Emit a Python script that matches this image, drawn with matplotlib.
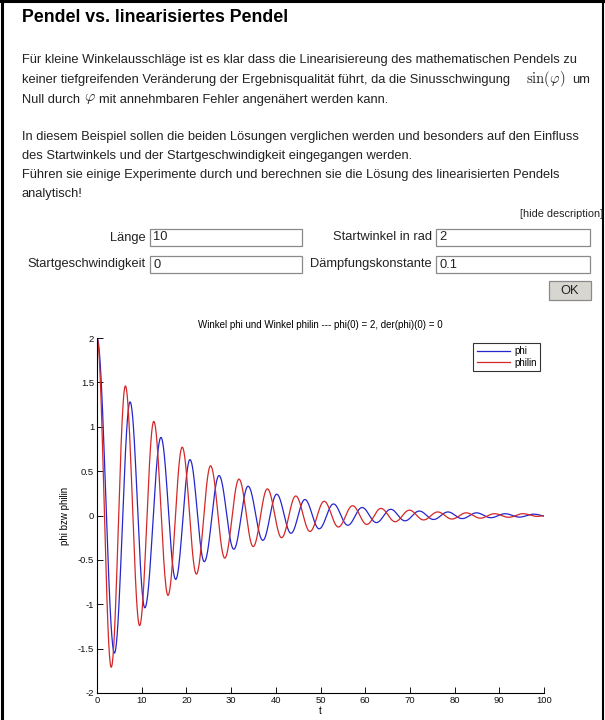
import numpy as np
import matplotlib.pyplot as plt
from matplotlib.patches import Rectangle

plt.rcParams['font.family'] = ['Liberation Sans', 'DejaVu Sans']
plt.rcParams['mathtext.fontset'] = 'cm'

# extrema of the two curves (t in s, angle in rad)
phi_t = [0, 3.9, 7.4, 10.7, 14.3, 17.6, 20.8, 24.0, 27.3, 30.6, 33.8, 37.1, 40.2, 43.4,
         46.5, 49.7, 52.9, 56.1, 59.3, 62.5, 65.7, 68.9, 72.1, 75.3, 78.5, 81.7, 84.9,
         88.1, 91.3, 94.5, 97.7, 100.9]
phi_v = [2.0, -1.55, 1.28, -1.04, 0.88, -0.72, 0.63, -0.52, 0.45, -0.38, 0.33, -0.28, 0.24,
         -0.20, 0.18, -0.15, 0.13, -0.11, 0.09, -0.08, 0.07, -0.06, 0.05, -0.045, 0.04,
         -0.035, 0.03, -0.025, 0.02, -0.018, 0.015, -0.012]

philin_t = [0, 3.18, 6.35, 9.53, 12.70, 15.88, 19.06, 22.23, 25.41, 28.58, 31.76, 34.94,
            38.11, 41.29, 44.46, 47.64, 50.82, 53.99, 57.17, 60.35, 63.52, 66.70, 69.88,
            73.05, 76.23, 79.40, 82.58, 85.76, 88.93, 92.11, 95.28, 98.46, 101.63]
philin_v = [2.0, -1.71, 1.46, -1.24, 1.06, -0.90, 0.77, -0.66, 0.56, -0.48, 0.41, -0.35,
            0.30, -0.25, 0.22, -0.18, 0.16, -0.13, 0.11, -0.10, 0.08, -0.07, 0.06, -0.05,
            0.04, -0.04, 0.03, -0.03, 0.02, -0.02, 0.02, -0.01, 0.01]

y_ticks = [-2, -1.5, -1, -0.5, 0, 0.5, 1, 1.5, 2]
x_ticks = [0, 10, 20, 30, 40, 50, 60, 70, 80, 90, 100]

form_fields = [("Länge", "10"), ("Startwinkel in rad", "2"),
               ("Startgeschwindigkeit", "0"), ("Dämpfungskonstante", "0.1")]

para1 = ["Für kleine Winkelausschläge ist es klar dass die Linearisiereung des mathematischen Pendels zu",
         "keiner tiefgreifenden Veränderung der Ergebnisqualität führt, da die Sinusschwingung",
         "Null durch"]
para2 = ["In diesem Beispiel sollen die beiden Lösungen verglichen werden und besonders auf den Einfluss",
         "des Startwinkels und der Startgeschwindigkeit eingegangen werden.",
         "Führen sie einige Experimente durch und berechnen sie die Lösung des linearisierten Pendels",
         "analytisch!"]


def swing(t, v, n=40):
    # join consecutive extrema by half cosine arcs
    ts, vs = [], []
    for i in range(len(t) - 1):
        s = np.linspace(0, 1, n, endpoint=False)
        ts.append(t[i] + (t[i + 1] - t[i]) * s)
        vs.append((v[i] + v[i + 1]) / 2 + (v[i] - v[i + 1]) / 2 * np.cos(np.pi * s))
    ts.append([t[-1]])
    vs.append([v[-1]])
    return np.concatenate(ts), np.concatenate(vs)


W, H = 605, 720
fig = plt.figure(figsize=(W / 100, H / 100), dpi=100)

# page layer in pixel coordinates
pg = fig.add_axes([0, 0, 1, 1])
pg.set_xlim(0, W)
pg.set_ylim(H, 0)
pg.axis('off')

txt = '#222222'
fs = 9.3
pg.plot([1.5, 1.5], [0, H], color='black', lw=2.2)
pg.plot([0, W], [1.2, 1.2], color='black', lw=2.2)
pg.plot([603, 603], [0, H], color='black', lw=1.5)

pg.text(22, 18, "Pendel vs. linearisiertes Pendel", fontsize=12.8, fontweight='bold',
        va='center', color='black')

for y, line in zip([60, 80, 100], para1):
    pg.text(22, y, line, fontsize=fs, va='center', color=txt)
pg.text(526, 79, r"$\sin(\varphi)$", fontsize=10.5, va='center', color=txt)
pg.text(572, 80, "um", fontsize=fs, va='center', color=txt)
pg.text(84, 98, r"$\varphi$", fontsize=11.5, va='center', color=txt)
pg.text(99, 100, "mit annehmbaren Fehler angenähert werden kann.", fontsize=fs, va='center', color=txt)

for y, line in zip([137, 156, 175, 194], para2):
    pg.text(22, y, line, fontsize=fs, va='center', color=txt)

pg.text(603, 214, "[hide description]", fontsize=7.8, va='center', ha='right', color=txt)

label_right = [146, 432, 146, 432]
box_left = [150, 436, 150, 436]
box_right = [302, 590, 302, 590]
row_y = [229, 229, 256, 256]
for (lab, val), lx, bx, br, ry in zip(form_fields, label_right, box_left, box_right, row_y):
    pg.text(lx, ry + 8.5, lab, fontsize=fs, va='center', ha='right', color=txt)
    pg.add_patch(Rectangle((bx, ry), br - bx, 17, facecolor='white', edgecolor='#8a8a8a', lw=0.9))
    pg.text(bx + 3, ry + 8.5, val, fontsize=fs, va='center', color=txt)

pg.add_patch(Rectangle((549, 281), 42, 19, facecolor='#d8d6d0', edgecolor='#8a8a8a', lw=0.9))
pg.text(570, 290.5, "OK", fontsize=fs, va='center', ha='center', color=txt)

# the plot
ax = fig.add_axes([97 / W, 1 - 693 / H, (544 - 97) / W, (693 - 338) / H])
ax.set_facecolor('none')
t1, v1 = swing(phi_t, phi_v)
t2, v2 = swing(philin_t, philin_v)
ax.plot(t1, v1, color='#2626cc', lw=0.9, label='phi')
ax.plot(t2, v2, color='#d42828', lw=0.9, label='philin')
ax.set_xlim(0, 100)
ax.set_ylim(-2, 2)
ax.set_xticks(x_ticks)
ax.set_yticks(y_ticks)
ax.set_yticklabels([f"{v:g}" for v in y_ticks])
ax.spines['top'].set_visible(False)
ax.spines['right'].set_visible(False)
for s in ['left', 'bottom']:
    ax.spines[s].set_linewidth(0.8)
ax.tick_params(direction='in', length=4, width=0.7, labelsize=6.8, pad=2, colors='#111111')
ax.set_xlabel("t", fontsize=7, labelpad=1)
ax.set_ylabel("phi bzw philin", fontsize=7, labelpad=6)
ax.set_title("Winkel phi und Winkel philin --- phi(0) = 2, der(phi)(0) = 0", fontsize=7, pad=7)
leg = ax.legend(loc='upper right', bbox_to_anchor=(0.992, 0.986), fontsize=7,
                frameon=True, fancybox=False, handlelength=3.4, handletextpad=0.5,
                borderpad=0.35, labelspacing=0.15, borderaxespad=0)
leg.get_frame().set_edgecolor('black')
leg.get_frame().set_linewidth(0.8)

fig.savefig("out.png", dpi=100)
